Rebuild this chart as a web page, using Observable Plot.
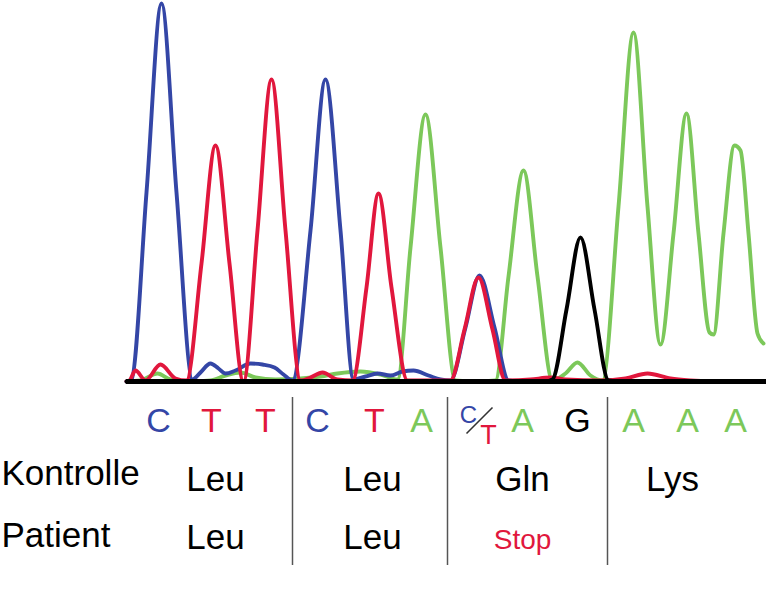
<!DOCTYPE html>
<html>
<head>
<meta charset="utf-8">
<script src="https://cdn.jsdelivr.net/npm/d3@7"></script>
<script src="https://cdn.jsdelivr.net/npm/@observablehq/plot@0.6"></script>
<style>
  html, body { margin: 0; padding: 0; background: #ffffff; }
  #chart svg { display: block; }
</style>
</head>
<body>
<div id="chart"></div>
<script>
// ---- Chromatogram traces: [scan position, signal intensity] ----
const traceC = [[126,0],[131,2],[146,189],[161,378],[176,189],[192,2],[200,9],[210,18],[218,13],[225,8],[235,11],[250,18],[262,17],[274,14],[283,7],[292,1],[310,151],[325,302],[340,151],[353,2],[365,5],[377,8],[390,6],[402,10],[413,11],[428,6],[440,2],[450,1],[465,54],[479,106],[494,54],[508,1],[520,0],[560,0]];
const traceT = [[126,0],[129,1],[135,11],[145,1],[160,17],[175,3],[186,1],[201,118],[215,236],[229,118],[243,0],[257,151],[271,302],[285,151],[300,1],[310,4],[322,9],[337,2],[352,1],[366,94],[378,188],[391,94],[407,1],[430,1],[450,1],[464,52],[478,104],[492,52],[505,1],[530,2],[550,4],[565,2],[600,1],[625,3],[647,8],[670,3],[690,1],[715,0]];
const traceA = [[126,0],[140,1],[157,8],[170,2],[190,0],[210,1],[225,6],[240,9],[255,4],[275,2],[300,3],[320,5],[337,8],[360,10],[380,7],[397,2],[410,134],[425,267],[440,134],[455,1],[475,0],[495,1],[508,105],[523,211],[537,105],[552,1],[565,8],[577,19],[590,6],[602,1],[618,175],[633,349],[647,175],[660,37],[673,148],[686,268],[698,148],[709,49],[713,47],[723,148],[734,236],[740,231],[748,148],[757,48],[763,38]];
const traceG = [[126,0],[545,0],[552,2],[566,72],[580,144],[594,72],[608,1],[620,0],[700,0]];
const scanRange = [126, 766];

// ---- Base calls ----
const baseLetters = ["C","T","T","C","T","A","C/T","A","G","A","A","A"];
const basePos     = [158,211,265,317,374,421,478,522,577,633,687,735];

// ---- Codons / amino acids ----
const aaControl = ["Leu","Leu","Gln","Lys"];
const aaPatient = ["Leu","Leu","Stop",""];
const aaPos     = [215,372,522,672];
const codonBreaks = [292,447,607];
const rowLabels = ["Kontrolle","Patient"];

// ---- styles ----
const col = {C: "#3446a6", T: "#e1173d", A: "#7cc85a", G: "#000000"};
const font = "Liberation Sans, Arial, Helvetica, sans-serif";

// row levels (signal units below the baseline)
const rowBase = -40, rowCtrlLabel = -92, rowCtrl = -98, rowPat = -154, rowPatAA = -156;

const xy = {x: d => d[0], y: d => d[1], curve: "monotone-x", strokeWidth: 3.9, strokeLinejoin: "round", strokeLinecap: "round"};

const single = baseLetters.map((b, i) => ({b, x: basePos[i]})).filter(d => d.b.length === 1);
const het = baseLetters.map((b, i) => ({b, x: basePos[i]})).filter(d => d.b.length > 1);

const chart = Plot.plot({
  width: 766,
  height: 600,
  margin: 0,
  style: {background: "#ffffff", fontFamily: font},
  x: {domain: [0, 766], axis: null},
  y: {domain: [-219, 381], axis: null},
  marks: [
    Plot.line(traceA, {...xy, stroke: col.A}),
    Plot.line(traceC, {...xy, stroke: col.C}),
    Plot.line(traceT, {...xy, stroke: col.T}),
    Plot.line(traceG, {...xy, stroke: col.G}),
    Plot.ruleY([0], {x1: scanRange[0], x2: scanRange[1], stroke: "#000", strokeWidth: 5}),
    // codon separators
    Plot.ruleX(codonBreaks, {y1: -16, y2: -184, stroke: "#555", strokeWidth: 1.5}),
    // single base calls
    Plot.text(single, {x: "x", y: rowBase, text: "b", fill: d => col[d.b], fontSize: 34, fontFamily: font}),
    // heterozygous call C/T
    Plot.text(het, {x: d => d.x - 10, y: rowBase + 6, text: d => d.b.split("/")[0], fill: col.C, fontSize: 24, fontFamily: font}),
    Plot.text(het, {x: d => d.x + 10, y: rowBase - 14, text: d => d.b.split("/")[1], fill: col.T, fontSize: 27, fontFamily: font}),
    Plot.link(het, {x1: d => d.x - 12, y1: rowBase - 12, x2: d => d.x + 14, y2: rowBase + 14, stroke: "#333", strokeWidth: 1.6}),
    // row labels
    Plot.text(rowLabels, {x: 1, y: (d, i) => i === 0 ? rowCtrlLabel : rowPat, text: d => d, textAnchor: "start", fontSize: 35, fill: "#000", fontFamily: font}),
    // amino acids
    Plot.text(aaControl, {x: (d, i) => aaPos[i], y: rowCtrl, text: d => d, fontSize: 35, fill: "#000", fontFamily: font}),
    Plot.text(aaPatient, {x: (d, i) => aaPos[i], y: (d) => d === "Stop" ? rowPatAA - 3 : rowPatAA, text: d => d, fontSize: d => d === "Stop" ? 28 : 35, fill: d => d === "Stop" ? col.T : "#000", fontFamily: font})
  ]
});
document.getElementById("chart").appendChild(chart);
</script>
</body>
</html>
